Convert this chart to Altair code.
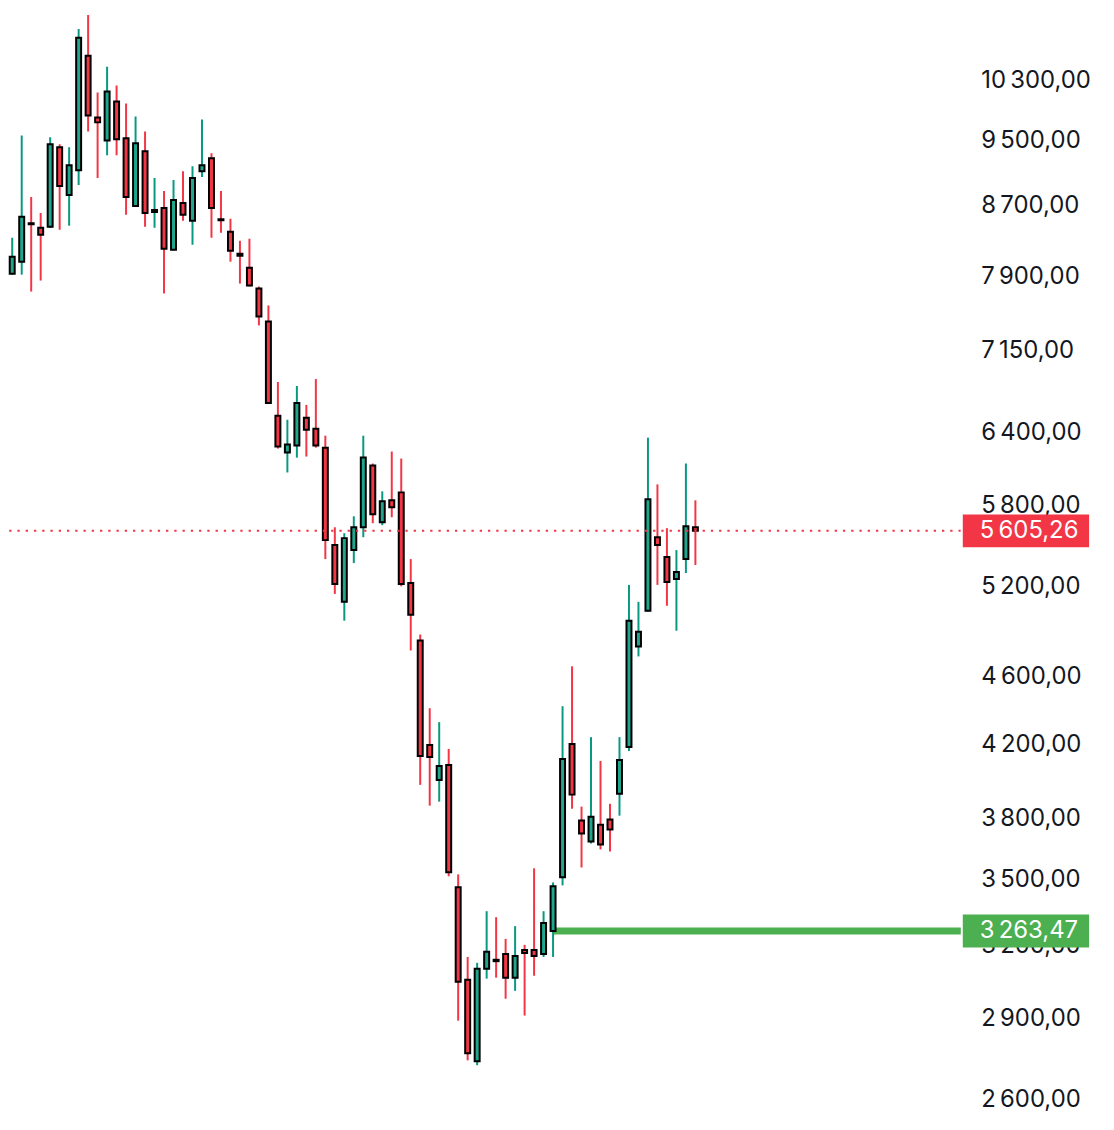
import altair as alt
import pandas as pd

# ---- OHLC data (log price scale) ----
opens = [7950, 7935, 8064, 8493, 8442, 8453, 9412, 8825, 9126, 10652,
         9800, 9500, 10013, 9527, 8695, 9362, 8625, 8672, 8195, 8730,
         8522, 9113, 9274, 8539, 8397, 8151, 7999, 7777, 7439, 6548,
         6230, 6290, 6530, 6434, 6272, 5498, 5092, 5461, 5632, 6122,
         5670, 5841, 5904, 5224, 4833, 4196, 4003, 4084, 3462, 3055,
         2737, 3101, 3139, 3164, 3064, 3181, 3181, 3164, 3263.47, 3509,
         4202, 3789, 3683, 3768, 3794, 3929, 4185, 4794, 5031, 5557,
         5410, 5252, 5395, 5632]
highs = [8490, 8330, 9565, 8801, 8614, 9540, 9450, 9412, 11046, 11256,
         10135, 10496, 10231, 9986, 9813, 9617, 9029, 8872, 9005, 9113,
         9175, 9773, 9337, 8872, 8545, 8295, 8317, 7798, 7601, 6854,
         6513, 6817, 6645, 6881, 6374, 5632, 5587, 5716, 6374, 6139,
         5912, 6239, 6180, 5395, 4872, 4410, 4328, 4174, 3523, 3151,
         3126, 3352, 3325, 3229, 3285, 3203, 3552, 3352, 3485, 4422,
         4667, 3861, 4241, 4107, 3876, 4241, 5210, 5092, 6357, 5968,
         5625, 5461, 6139, 5841]
lows = [7775, 7924, 7924, 7745, 7861, 8440, 8419, 8465, 8944, 9617,
        9029, 9312, 9312, 8591, 8684, 8453, 8442, 7725, 8190, 8522,
        8251, 9041, 8329, 8385, 8064, 7829, 7798, 7399, 6655, 6264,
        6065, 6188, 6197, 6272, 5395, 5147, 4964, 5366, 5557, 5663,
        5648, 5709, 5200, 4768, 3976, 3866, 3887, 3514, 2891, 2740,
        2722, 3060, 3064, 2978, 3010, 2911, 3072, 3151, 3151, 3471,
        3850, 3556, 3673, 3644, 3634, 3814, 4162, 4730, 5025, 5210,
        5065, 4897, 5294, 5352]
closes = [7962, 8119, 8568, 8482, 8363, 9450, 8932, 9187, 10913, 9827,
          9735, 10149, 9514, 8801, 9463, 8614, 8649, 8206, 8766, 8591,
          9029, 9187, 8672, 8528, 8184, 8129, 7808, 7489, 6663, 6281,
          6298, 6663, 6426, 6290, 5535, 5217, 5550, 5632, 6188, 5732,
          5833, 5786, 5217, 5004, 4134, 4129, 4079, 3533, 3047, 2766,
          3101, 3173, 3133, 3064, 3155, 3168, 3155, 3299, 3467, 4118,
          3924, 3723, 3809, 3668, 3743, 4112, 4964, 4891, 5849, 5498,
          5231, 5302, 5640, 5605.26]

tick_values = [2600, 2900, 3200, 3500, 3800, 4200, 4600, 5200, 5800,
               6400, 7150, 7900, 8700, 9500, 10300]

last_price = 5605.26
level_price = 3263.47
level_start = 58

UP_WICK, DOWN_WICK = "#089981", "#F23645"
UP_BODY, DOWN_BODY = "#1FA68C", "#F23645"
FONT_SIZE = 24


def fmt(v):
    return f"{v:,.2f}".replace(",", "\u202f").replace(".", ",")


df = pd.DataFrame({
    "i": list(range(len(opens))),
    "open": opens, "high": highs, "low": lows, "close": closes,
})
df["dir"] = ["up" if c >= o else "down" for o, c in zip(opens, closes)]

last_df = pd.DataFrame({"price": [last_price], "label": [fmt(last_price)]})
level_df = pd.DataFrame({"price": [level_price], "start": [level_start],
                         "end": [110], "label": [fmt(level_price)]})

xs = alt.Scale(domain=[0.556, 100.97], nice=False, zero=False, padding=0)
ys = alt.Scale(type="log", domain=[2531.3, 11316], nice=False, zero=False)
yaxis = alt.Axis(
    orient="right", values=tick_values, title=None,
    labelExpr="replace(replace(format(datum.value, ',.2f'), ',', '\u202f'), '.', ',')",
    grid=False, domain=False, ticks=False, labelPadding=20,
    labelAlign="left", labelBaseline="middle", labelOverlap=False,
    labelFont="Inter", labelFontSize=FONT_SIZE, labelColor="#131722",
)

X = alt.X("i:Q", scale=xs, axis=None)

ray = alt.Chart(level_df).mark_rule(color="#4CAF50", strokeWidth=7, clip=True).encode(
    x=alt.X("start:Q", scale=xs, axis=None), x2="end:Q",
    y=alt.Y("price:Q", scale=ys, axis=yaxis),
)

wicks = alt.Chart(df).mark_rule(strokeWidth=2, clip=True).encode(
    x=X,
    y=alt.Y("low:Q", scale=ys, axis=yaxis), y2="high:Q",
    color=alt.Color("dir:N", scale=alt.Scale(domain=["up", "down"],
                                              range=[UP_WICK, DOWN_WICK]), legend=None),
)

bodies = alt.Chart(df).mark_bar(size=5, stroke="black", strokeWidth=2, clip=True).encode(
    x=X,
    y=alt.Y("open:Q", scale=ys, axis=yaxis), y2="close:Q",
    fill=alt.Fill("dir:N", scale=alt.Scale(domain=["up", "down"],
                                            range=[UP_BODY, DOWN_BODY]), legend=None),
)

last_line = alt.Chart(last_df).mark_rule(
    color="#F23645", strokeWidth=2, strokeDash=[2.3, 6], clip=True
).encode(y=alt.Y("price:Q", scale=ys, axis=yaxis))

last_box = alt.Chart(last_df).mark_rule(color="#F23645", strokeWidth=33, strokeCap="butt").encode(
    x=alt.value(960), x2=alt.value(1087), y=alt.Y("price:Q", scale=ys, axis=yaxis),
)
level_box = alt.Chart(level_df).mark_rule(color="#4CAF50", strokeWidth=33, strokeCap="butt").encode(
    x=alt.value(960), x2=alt.value(1087), y=alt.Y("price:Q", scale=ys, axis=yaxis),
)
last_text = alt.Chart(last_df).mark_text(
    align="left", baseline="middle", font="Inter", fontSize=FONT_SIZE, color="white"
).encode(x=alt.value(977), y=alt.Y("price:Q", scale=ys, axis=yaxis), text="label:N")
level_text = alt.Chart(level_df).mark_text(
    align="left", baseline="middle", font="Inter", fontSize=FONT_SIZE, color="white"
).encode(x=alt.value(977), y=alt.Y("price:Q", scale=ys, axis=yaxis), text="label:N")

chart = alt.layer(
    ray, wicks, bodies, last_line, last_box, level_box, last_text, level_text
).properties(
    width=958, height=1114, padding=0, background="white"
).configure_view(strokeWidth=0)

chart.save("out.html", embed_options={"renderer": "svg", "actions": False})
